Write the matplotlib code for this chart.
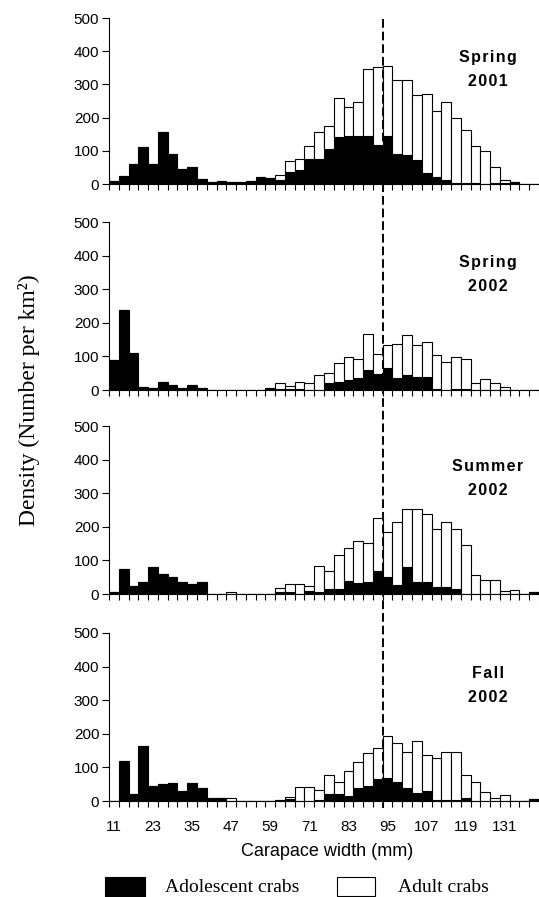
import matplotlib
matplotlib.use("Agg")
import matplotlib.pyplot as plt
import matplotlib.lines as mlines
import matplotlib.patches as mpatches
import numpy as np

plt.rcParams['font.family'] = ['Liberation Sans', 'DejaVu Sans']

# bin centres, carapace width in mm (3 mm bins)
widths = np.arange(11, 141, 3)
xtick_labels = [11, 23, 35, 47, 59, 71, 83, 95, 107, 119, 131]
maturity = 93.5  # dashed reference line

seasons = [("Spring", "2001"), ("Spring", "2002"), ("Summer", "2002"), ("Fall", "2002")]

# density (number per km2), adolescent and adult crabs, per bin
adol1 = [10, 25, 60, 110, 60, 157, 90, 45, 50, 15, 5, 8, 5, 5, 8, 21, 18, 12, 36, 41,
         76, 76, 106, 141, 145, 145, 145, 116, 145, 90, 86, 71, 32, 22, 12, 2, 2, 2, 0, 2,
         2, 7, 0, 0]
adult1 = [0, 0, 0, 0, 0, 0, 0, 0, 0, 0, 0, 0, 0, 0, 0, 0, 0, 14, 34, 33,
          39, 82, 68, 117, 88, 103, 202, 236, 211, 222, 226, 196, 240, 197, 236, 197, 162, 113, 100, 48,
          10, 0, 0, 0]

adol2 = [90, 238, 110, 10, 6, 25, 16, 6, 16, 6, 0, 0, 0, 0, 0, 0, 6, 3, 3, 3,
         0, 0, 20, 25, 30, 35, 60, 47, 65, 35, 45, 40, 40, 3, 0, 2, 3, 0, 0, 0,
         0, 0, 0, 0]
adult2 = [0, 0, 0, 0, 0, 0, 0, 0, 0, 0, 0, 0, 0, 0, 0, 0, 0, 17, 10, 21,
          20, 44, 30, 55, 68, 57, 107, 61, 70, 103, 118, 93, 103, 100, 83, 96, 90, 20, 34, 20,
          10, 0, 0, 0]

adol3 = [6, 75, 25, 35, 80, 60, 50, 35, 30, 35, 0, 0, 0, 0, 0, 0, 0, 5, 5, 0,
         10, 5, 15, 15, 40, 33, 35, 68, 50, 26, 79, 35, 35, 20, 20, 15, 0, 0, 0, 0,
         0, 0, 0, 5]
adult3 = [0, 0, 0, 0, 0, 0, 0, 0, 0, 0, 0, 0, 5, 0, 0, 0, 0, 13, 25, 30,
          13, 77, 52, 102, 96, 124, 116, 157, 135, 188, 174, 218, 203, 174, 194, 179, 146, 58, 43, 43,
          8, 13, 0, 0]

adol4 = [0, 118, 20, 163, 45, 50, 54, 29, 54, 39, 10, 10, 0, 0, 0, 0, 0, 4, 5, 0,
         0, 3, 20, 20, 15, 40, 44, 65, 68, 58, 40, 25, 29, 2, 2, 2, 10, 0, 0, 0,
         0, 0, 0, 5]
adult4 = [0, 0, 0, 0, 0, 0, 0, 0, 0, 0, 0, 0, 8, 0, 0, 0, 0, 0, 7, 42,
          42, 29, 58, 37, 73, 77, 98, 92, 124, 114, 107, 155, 108, 125, 145, 145, 68, 57, 28, 8,
          18, 0, 0, 0]

adolescent = [adol1, adol2, adol3, adol4]
adult = [adult1, adult2, adult3, adult4]

W, H = 539, 897
fig = plt.figure(figsize=(W / 100, H / 100), dpi=100)

# panel placement in pixels (top of 500, bottom at 0)
rows = [(18, 184), (222, 390), (426, 594), (633, 801)]
left_px, right_px = 109, 539


def spaced(s, sep='\u200a'):
    return sep.join(s)


axes = []
for i, (top, bot) in enumerate(rows):
    ax = fig.add_axes([left_px / W, 1 - bot / H, (right_px - left_px) / W, (bot - top) / H])
    ax.bar(widths, adolescent[i], width=3, color='black', edgecolor='black', linewidth=0.8)
    ax.bar(widths, adult[i], width=3, bottom=adolescent[i], color='white',
           edgecolor='black', linewidth=0.8)
    ax.set_xlim(9.5, 141.5)
    ax.set_ylim(0, 500)
    ax.set_yticks(range(0, 501, 100))
    ax.set_xticks(xtick_labels)
    ax.set_xticks(np.arange(9.5, 142, 3), minor=True)
    ax.tick_params(axis='x', which='major', length=0, pad=13.5, labelsize=11)
    ax.tick_params(axis='x', which='minor', length=4, width=0.8, direction='out')
    ax.tick_params(axis='y', length=5, width=0.8, pad=2, labelsize=11)
    if i < 3:
        ax.set_xticklabels([])
    for s in ['top', 'right']:
        ax.spines[s].set_visible(False)
    for s in ['left', 'bottom']:
        ax.spines[s].set_linewidth(0.8)
    name, year = seasons[i]
    ax.text(125.7, 380, spaced(name), ha='center', va='center',
            fontweight='bold', fontsize=11.5)
    ax.text(125.7, 308, spaced(year), ha='center', va='center',
            fontweight='bold', fontsize=11.5)
    axes.append(ax)

# dashed line running through all panels
inv = fig.transFigure.inverted()
x0, y_top = inv.transform(axes[0].transData.transform((maturity, 500)))
_, y_bot = inv.transform(axes[-1].transData.transform((maturity, 0)))
fig.add_artist(mlines.Line2D([x0, x0], [y_top - 1 / H, y_bot - 7 / H], color='black',
                             linewidth=1.4, linestyle=(0, (4.5, 2))))

fig.text(29 / W, 1 - 400 / H, "Density (Number per km\u00b2)", rotation=90,
         ha='center', va='center', family='Liberation Serif', fontsize=17)
fig.text(327 / W, 1 - 851 / H, "Carapace width (mm)", ha='center', va='center',
         fontsize=13)

# legend
fig.add_artist(mpatches.Rectangle((105 / W, 1 - 897 / H), 40 / W, 20 / H,
                                  transform=fig.transFigure, facecolor='black',
                                  edgecolor='black', linewidth=0.8))
fig.add_artist(mpatches.Rectangle((337 / W, 1 - 896 / H), 38 / W, 19 / H,
                                  transform=fig.transFigure, facecolor='white',
                                  edgecolor='black', linewidth=0.8))
fig.text(165 / W, 1 - 887 / H, "Adolescent crabs", ha='left', va='center',
         family='Liberation Serif', fontsize=14)
fig.text(398 / W, 1 - 887 / H, "Adult crabs", ha='left', va='center',
         family='Liberation Serif', fontsize=14)

fig.savefig('out.png', dpi=100)
